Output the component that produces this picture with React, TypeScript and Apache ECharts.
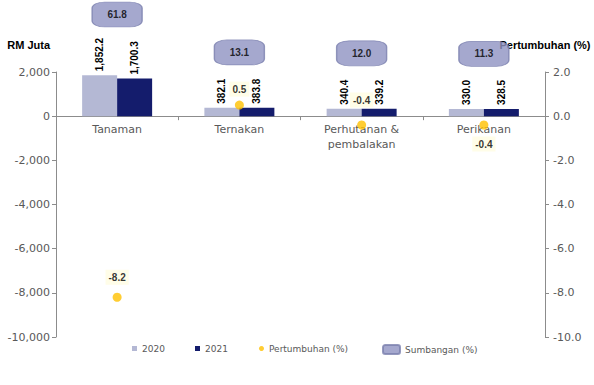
import React, { useEffect, useRef } from "react";
import * as echarts from "echarts";

const categories = ["Tanaman", "Ternakan", "Perhutanan &\npembalakan", "Perikanan"];
const values2020 = [1852.2, 382.1, 340.4, 330.0];
const values2021 = [1700.3, 383.8, 339.2, 328.5];
const growth = [-8.2, 0.5, -0.4, -0.4];
const share = [61.8, 13.1, 12.0, 11.3];

const leftMin = -10000;
const leftMax = 2000;
const leftInterval = 2000;
const rightMin = -10;
const rightMax = 2;
const rightInterval = 2;

// label styling per growth point
const growthLabelPos = ["top", "top", "top", "bottom"];
const growthLabelDist = [8, 4, 13, 7];

const GRAY = "#595959";
const AXIS = "#8c8c8c";
const TICK_FONT = "DejaVu Sans";
const BOLD_FONT = "Liberation Sans";

export default function App() {
  const ref = useRef<HTMLDivElement>(null);
  useEffect(() => {
    if (!ref.current) return;
    const chart = echarts.init(ref.current, null, { renderer: "svg" });
    const fmt1 = (v: number) =>
      v.toLocaleString("en-US", { minimumFractionDigits: 1, maximumFractionDigits: 1 });
    const barLabel = {
      show: true,
      position: "top",
      rotate: 90,
      align: "left",
      verticalAlign: "middle",
      distance: 4,
      fontFamily: BOLD_FONT,
      fontWeight: "bold",
      fontSize: 10,
      color: "#000",
      formatter: (p: any) => fmt1(p.value),
    };
    const legendBase = {
      top: 339,
      textStyle: { color: GRAY, fontFamily: TICK_FONT, fontSize: 9 },
      selectedMode: false,
    };
    const gridTop = 72;
    const gridBottom = 48;
    const plotH = 385 - gridTop - gridBottom;
    const zeroOffset = -(plotH * (0 - leftMin)) / (leftMax - leftMin);
    chart.setOption({
      animation: false,
      grid: { left: 56, right: 49, top: gridTop, bottom: gridBottom, containLabel: false },
      legend: [
        { ...legendBase, left: 127, data: ["2020"], icon: "rect", itemWidth: 5, itemHeight: 5 },
        { ...legendBase, left: 190, data: ["2021"], icon: "rect", itemWidth: 5, itemHeight: 5 },
        { ...legendBase, left: 254, data: ["Pertumbuhan (%)"], icon: "circle", itemWidth: 5, itemHeight: 5 },
        { ...legendBase, left: 377, data: ["Sumbangan (%)"], icon: "roundRect", itemWidth: 17, itemHeight: 9 },
      ],
      xAxis: {
        type: "category",
        data: categories,
        position: "bottom",
        offset: zeroOffset,
        axisLine: { show: true, onZero: false, lineStyle: { color: AXIS, width: 1 } },
        axisTick: { show: true, length: 4, lineStyle: { color: AXIS } },
        axisLabel: {
          color: GRAY,
          fontFamily: TICK_FONT,
          fontSize: 11,
          lineHeight: 15,
          margin: 6,
        },
        splitLine: { show: false },
      },
      yAxis: [
        {
          type: "value",
          min: leftMin,
          max: leftMax,
          interval: leftInterval,
          name: "RM Juta",
          nameLocation: "end",
          nameGap: 22,
          nameTextStyle: {
            fontFamily: BOLD_FONT,
            fontWeight: "bold",
            fontSize: 11,
            color: "#000",
            align: "right",
            padding: [0, 6, 0, 0],
          },
          axisLine: { show: true, lineStyle: { color: AXIS } },
          axisTick: { show: true, length: 4, lineStyle: { color: AXIS } },
          axisLabel: {
            color: GRAY,
            fontFamily: TICK_FONT,
            fontSize: 11,
            margin: 6,
            formatter: (v: number) => v.toLocaleString("en-US"),
          },
          splitLine: { show: false },
        },
        {
          type: "value",
          position: "right",
          min: rightMin,
          max: rightMax,
          interval: rightInterval,
          name: "Pertumbuhan (%)",
          nameLocation: "end",
          nameGap: 22,
          nameTextStyle: {
            fontFamily: BOLD_FONT,
            fontWeight: "bold",
            fontSize: 11,
            color: "#000",
          },
          axisLine: { show: true, lineStyle: { color: AXIS } },
          axisTick: { show: true, length: 4, lineStyle: { color: AXIS } },
          axisLabel: {
            color: GRAY,
            fontFamily: TICK_FONT,
            fontSize: 11,
            margin: 8,
            formatter: (v: number) => v.toFixed(1),
          },
          splitLine: { show: false },
        },
        {
          type: "value",
          show: false,
          min: -352,
          max: -12,
          splitLine: { show: false },
        },
      ],
      series: [
        {
          name: "2020",
          type: "bar",
          data: values2020,
          barWidth: 35,
          barGap: "0%",
          itemStyle: { color: "#b4b8d4" },
          label: barLabel,
        },
        {
          name: "2021",
          type: "bar",
          data: values2021,
          barWidth: 35,
          barGap: "0%",
          itemStyle: { color: "#141c6c" },
          label: barLabel,
        },
        {
          name: "Pertumbuhan (%)",
          type: "scatter",
          yAxisIndex: 1,
          symbol: "circle",
          symbolSize: 9,
          z: 5,
          itemStyle: { color: "#ffc000" },
          data: growth.map((v, i) => ({
            value: v,
            label: {
              show: true,
              position: growthLabelPos[i],
              distance: growthLabelDist[i],
              fontFamily: BOLD_FONT,
              fontWeight: "bold",
              fontSize: 10,
              color: "#000",
              backgroundColor: "#fffde2",
              padding: [3, 3, 2, 3],
              formatter: (p: any) => p.value.toFixed(1),
            },
          })),
        },
        {
          name: "Sumbangan (%)",
          type: "scatter",
          yAxisIndex: 2,
          symbol: "roundRect",
          symbolSize: [50, 25],
          clip: false,
          z: 6,
          itemStyle: { color: "#8e92c2", borderColor: "#7a7fae", borderWidth: 1 },
          label: {
            show: true,
            position: "inside",
            fontFamily: BOLD_FONT,
            fontWeight: "bold",
            fontSize: 10,
            color: "#000",
            formatter: (p: any) => p.value.toFixed(1),
          },
          data: share,
        },
      ],
    });
    return () => chart.dispose();
  }, []);
  return (
    <div
      ref={ref}
      style={{ position: "absolute", left: 0, top: 0, width: 594, height: 385, background: "#fff" }}
    />
  );
}
